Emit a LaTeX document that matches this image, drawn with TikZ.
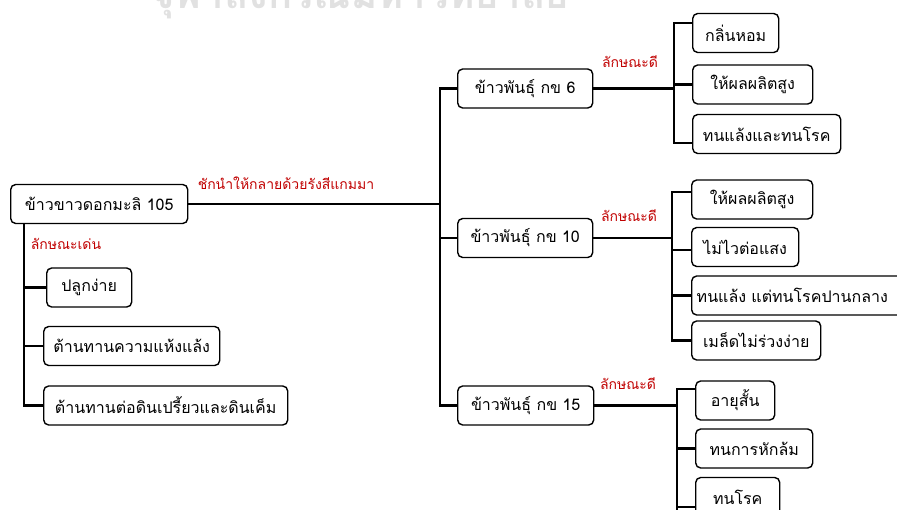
\documentclass[tikz,border=0pt]{standalone}
\usepackage{fontspec}
\newfontfamily\thai[Script=Thai]{Loma}
\definecolor{lblred}{RGB}{192,0,0}
\definecolor{wmark}{RGB}{225,225,225}
\tikzset{
  box/.style={draw, rounded corners=5pt, line width=1.4pt, minimum height=39pt, inner sep=0pt, anchor=west, font=\thai\fontsize{16}{16}\selectfont},
  lbl/.style={text=lblred, inner sep=0pt, font=\thai\fontsize{14}{14}\selectfont},
  bus/.style={line width=2.6pt},
  link/.style={line width=2.2pt}
}
\begin{document}
\begin{tikzpicture}[x=1pt,y=-1pt]
\useasboundingbox (0,0) rectangle (897,509);
\begin{scope}
\clip (0,0) rectangle (897,509);
% watermark
\node[text=wmark, inner sep=0pt, anchor=base, font=\thai\bfseries\fontsize{40}{40}\selectfont] (wm) at (360,8) {จุฬาลงกรณ์มหาวิทยาลัย};

% nodes
\node[box, minimum width=177pt] (root) at (10,204) {ข้าวขาวดอกมะลิ 105};
\node[box, minimum width=135pt] (kc6) at (457,88.5) {ข้าวพันธุ์ กข 6};
\node[box, minimum width=135pt] (kc10) at (457,238) {ข้าวพันธุ์ กข 10};
\node[box, minimum width=136pt] (kc15) at (457,405.5) {ข้าวพันธุ์ กข 15};

\node[box, minimum width=86pt] (c61) at (692,33) {กลิ่นหอม};
\node[box, minimum width=120pt] (c62) at (692,84.5) {ให้ผลผลิตสูง};
\node[box, minimum width=148pt] (c63) at (692,134) {ทนแล้งและทนโรค};

\node[box, minimum width=121pt] (c101) at (691,199.5) {ให้ผลผลิตสูง};
\node[box, minimum width=107pt] (c102) at (691,247) {ไม่ไวต่อแสง};
\node[box, minimum width=215pt, text width=205pt, align=left] (c103) at (691,295.5) {ทนแล้ง แต่ทนโรคปานกลาง};
\node[box, minimum width=129pt] (c104) at (691,340.5) {เมล็ดไม่ร่วงง่าย};

\node[box, minimum width=79pt] (c151) at (695,400.5) {อายุสั้น};
\node[box, minimum width=117pt] (c152) at (695,448.5) {ทนการหักล้ม};
\node[box, minimum width=84pt] (c153) at (695,497) {ทนโรค};

\node[box, minimum width=85pt] (l1) at (46,287.5) {ปลูกง่าย};
\node[box, minimum width=176pt] (l2) at (43,346) {ต้านทานความแห้งแล้ง};
\node[box, minimum width=244pt] (l3) at (43,405.5) {ต้านทานต่อดินเปรี้ยวและดินเค็ม};

% labels
\node[lbl] (t0) at (286,183) {ชักนำให้กลายด้วยรังสีแกมมา};
\node[lbl] (t1) at (66,244) {ลักษณะเด่น};
\node[lbl] (t6) at (630,62) {ลักษณะดี};
\node[lbl] (t10) at (629,216) {ลักษณะดี};
\node[lbl] (t15) at (628,384) {ลักษณะดี};

% bus coordinates
\coordinate (mb) at (440,204);
\coordinate (v6) at (674,88.5);
\coordinate (v10) at (672,238);
\coordinate (v15) at (677,405.5);
\coordinate (lb) at (24,224);
\coordinate (bot) at (677,512);

% main connectors
\draw[link] (root.east) -- (mb);
\draw[bus] (kc6.west) -- (kc6.west -| mb) -- (kc15.west -| mb) -- (kc15.west);
\draw[bus] (kc10.west) -- (kc10.west -| mb);

% kc6 children
\draw[link] (kc6.east) -- (v6);
\draw[bus] ([yshift=10pt]c61.west) -- ([yshift=10pt]c61.west -| v6) -- ([yshift=-9pt]c63.west -| v6) -- ([yshift=-9pt]c63.west);
\draw[bus] (c62.west) -- (c62.west -| v6);

% kc10 children
\draw[link] (kc10.east) -- (v10);
\draw[bus] ([yshift=7.5pt]c101.west) -- ([yshift=7.5pt]c101.west -| v10) -- (c104.west -| v10) -- (c104.west);
\draw[bus] ([yshift=-3pt]c102.west) -- ([yshift=-3pt]c102.west -| v10);
\draw[bus] (c103.west) -- (c103.west -| v10);

% kc15 children
\draw[link] (kc15.east) -- (v15);
\draw[bus] ([yshift=11.5pt]c151.west) -- ([yshift=11.5pt]c151.west -| v15) -- (bot);
\draw[bus] (c152.west) -- (c152.west -| v15);
\draw[bus] ([yshift=-10pt]c153.west) -- ([yshift=-10pt]c153.west -| v15);

% left characteristics
\draw[bus] (lb) |- (l3.west);
\draw[bus] (l1.west) -- (l1.west -| lb);
\draw[bus] (l2.west) -- (l2.west -| lb);
\end{scope}
\end{tikzpicture}
\end{document}
